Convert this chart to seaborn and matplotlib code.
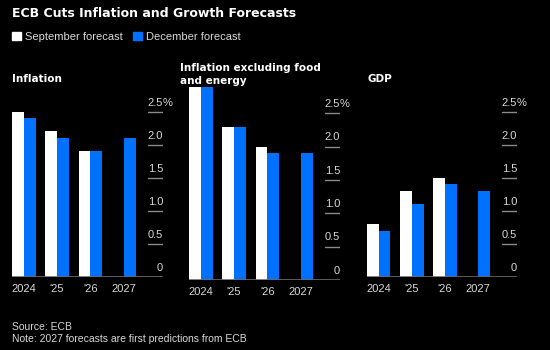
import numpy as np
import pandas as pd
import seaborn as sns
import matplotlib.pyplot as plt

sns.set_style("dark")
plt.rcParams['font.family'] = ['Liberation Sans', 'DejaVu Sans']

years = ["2024", "'25", "'26", "2027"]
series = ["September forecast", "December forecast"]
infl_sep = [2.5, 2.2, 1.9, np.nan]
infl_dec = [2.4, 2.1, 1.9, 2.1]
core_sep = [2.9, 2.3, 2.0, np.nan]
core_dec = [2.9, 2.3, 1.9, 1.9]
gdp_sep = [0.8, 1.3, 1.5, np.nan]
gdp_dec = [0.7, 1.1, 1.4, 1.3]
yticks = [0, 0.5, 1.0, 1.5, 2.0, 2.5]
panel_titles = ["Inflation", "Inflation excluding food\nand energy", "GDP"]

colors = {"September forecast": "#ffffff", "December forecast": "#0070ff"}
W, H = 550, 350


def long_df(sep, dec):
    return pd.DataFrame({
        "year": years * 2,
        "forecast": [series[0]] * 4 + [series[1]] * 4,
        "value": list(sep) + list(dec),
    })


fig = plt.figure(figsize=(5.5, 3.5), dpi=100, facecolor="black")

# axes boxes in pixels: left, right, baseline, px per unit
boxes = [(12, 163, 276.7, 66.0), (189, 340, 280.0, 66.7), (367, 517, 276.7, 66.0)]
data = [(infl_sep, infl_dec), (core_sep, core_dec), (gdp_sep, gdp_dec)]

axes = []
for (left, right, base, ppu), (sep, dec) in zip(boxes, data):
    top = base - 3.0 * ppu
    ax = fig.add_axes([left / W, 1 - base / H, (right - left) / W, (base - top) / H])
    ax.set_facecolor("black")
    sns.barplot(data=long_df(sep, dec), x="year", y="value", hue="forecast",
                hue_order=series, palette=colors, width=0.71, errorbar=None,
                saturation=1, linewidth=0, ax=ax, legend=False)
    ax.set_xlim(-0.355, 4.18)
    ax.set_ylim(0, 3.0)
    ax.set_xlabel("")
    ax.set_ylabel("")
    ax.grid(False)
    for s in ax.spines.values():
        s.set_visible(False)
    ax.axhline(0, color="#6a6a6a", lw=1.2, zorder=5)
    ax.set_yticks([])
    ax.set_xticks(range(len(years)))
    ax.set_xticklabels(years)
    ax.tick_params(axis="x", colors="#6a6a6a", length=3, width=1, pad=2,
                   labelcolor="#d8d8d8", labelsize=8)
    # short gridline stubs on the right with labels above them
    for v in yticks:
        if v > 0:
            ax.axhline(v, xmin=0.9, xmax=1.0, color="#8a8a8a", lw=1)
        lab = "0" if v == 0 else f"{v:.1f}"
        ax.annotate(lab, xy=(1.0, v), xycoords=("axes fraction", "data"),
                    xytext=(0, 3), textcoords="offset points",
                    ha="right", va="bottom", color="#d8d8d8", fontsize=8)
        if v == yticks[-1]:
            ax.annotate("%", xy=(1.0, v), xycoords=("axes fraction", "data"),
                        xytext=(0, 3), textcoords="offset points",
                        ha="left", va="bottom", color="#d8d8d8", fontsize=8)
    axes.append(ax)

# panel titles
fig.text(12 / W, 1 - 82 / H, panel_titles[0], color="white", fontsize=7.5,
         fontweight="bold", family="DejaVu Sans", va="baseline")
fig.text(180 / W, 1 - 84 / H, panel_titles[1], color="white", fontsize=7.5,
         fontweight="bold", family="DejaVu Sans", va="baseline", linespacing=1.4)
fig.text(367 / W, 1 - 82 / H, panel_titles[2], color="white", fontsize=7.5,
         fontweight="bold", family="DejaVu Sans", va="baseline")

# headline
fig.text(12 / W, 1 - 17 / H, "ECB Cuts Inflation and Growth Forecasts", color="white",
         fontsize=9, fontweight="bold", family="DejaVu Sans", va="baseline")

# legend
handles = [plt.Rectangle((0, 0), 1, 1, color=colors[s]) for s in series]
fig.legend(handles, series, loc="center left", bbox_to_anchor=(2 / W, 1 - 37 / H),
           ncol=2, frameon=False, handlelength=0.8, handleheight=0.8,
           handletextpad=0.4, columnspacing=0.9, labelcolor="#d8d8d8", fontsize=8)

# footer
fig.text(12 / W, 1 - 330 / H, "Source: ECB", color="#d8d8d8", fontsize=7.5, va="baseline")
fig.text(12 / W, 1 - 342 / H, "Note: 2027 forecasts are first predictions from ECB",
         color="#d8d8d8", fontsize=7.5, va="baseline")

fig.savefig("out.png", dpi=100, facecolor="black")
